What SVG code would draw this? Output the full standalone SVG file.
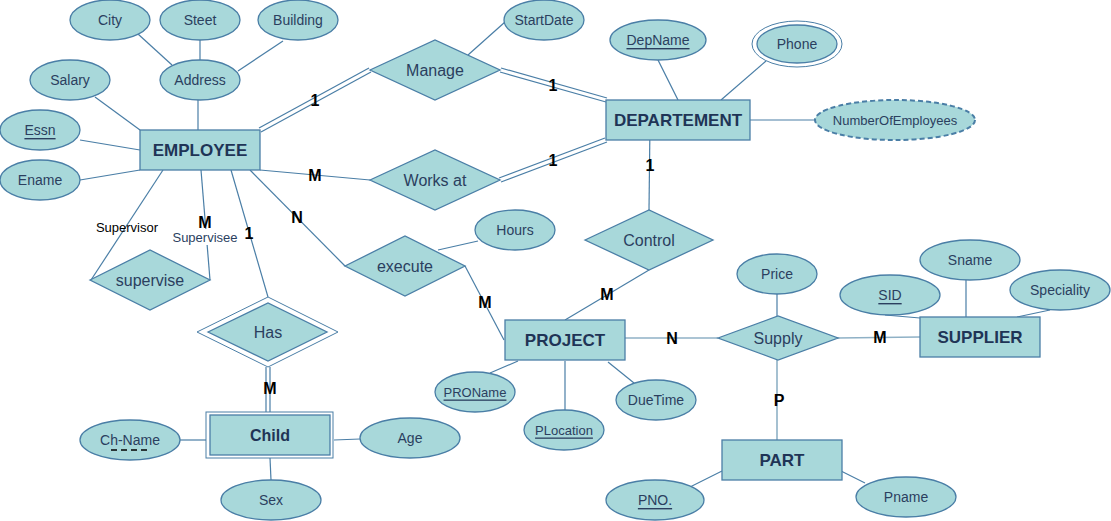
<svg xmlns="http://www.w3.org/2000/svg" width="1111" height="521" viewBox="0 0 1111 521">
<style>
.sh{fill:#a8d8da;stroke:#4a7ea6;stroke-width:1.3}
.dbl{fill:none;stroke:#4a7ea6;stroke-width:1}
.ln{stroke:#4a7ea6;stroke-width:1.2;fill:none}
.lt{stroke:#8fb1c6;stroke-width:1.6;fill:none}
.at{font-family:"Liberation Sans",Arial,sans-serif;font-size:14px;fill:#2b3f5f;text-anchor:middle;dominant-baseline:central}
.rl{font-family:"Liberation Sans",Arial,sans-serif;font-size:16px;fill:#2b3f5f;text-anchor:middle;dominant-baseline:central}
.en{font-family:"Liberation Sans",Arial,sans-serif;font-size:17px;font-weight:bold;fill:#1f3456;text-anchor:middle;dominant-baseline:central}
.cd{font-family:"Liberation Sans",Arial,sans-serif;font-size:16px;font-weight:bold;fill:#000;text-anchor:middle;dominant-baseline:central}
.rolel{font-family:"Liberation Sans",Arial,sans-serif;font-size:13px;fill:#000;text-anchor:middle;dominant-baseline:central}
.u{text-decoration:underline}
</style>
<rect width="1111" height="521" fill="#fff"/>
<g id="connectors">
<line class="ln" x1="138" y1="34" x2="172" y2="65"/>
<line class="ln" x1="200" y1="40" x2="200" y2="60"/>
<line class="ln" x1="283" y1="41" x2="238" y2="71"/>
<line class="ln" x1="198" y1="100" x2="198" y2="130"/>
<line class="ln" x1="95" y1="97" x2="140" y2="130"/>
<line class="ln" x1="80" y1="140" x2="140" y2="150"/>
<line class="ln" x1="80" y1="180" x2="140" y2="170"/>
<line class="ln" x1="259" y1="128" x2="369" y2="68"/>
<line class="ln" x1="261" y1="132" x2="371" y2="72"/>
<line class="ln" x1="501" y1="68" x2="607" y2="98"/>
<line class="ln" x1="500" y1="72" x2="606" y2="102"/>
<line class="ln" x1="260" y1="170" x2="370" y2="180"/>
<line class="ln" x1="499" y1="178" x2="605" y2="138"/>
<line class="ln" x1="501" y1="182" x2="607" y2="142"/>
<line class="ln" x1="468" y1="55" x2="505" y2="22"/>
<line class="ln" x1="658" y1="60" x2="678" y2="100"/>
<line class="ln" x1="766" y1="61" x2="721" y2="100"/>
<line class="ln" x1="750" y1="120" x2="815" y2="120"/>
<line class="ln" x1="650" y1="122" x2="649" y2="210"/>
<line class="ln" x1="649" y1="270" x2="565" y2="320"/>
<line class="ln" x1="250" y1="170" x2="345" y2="266"/>
<line class="ln" x1="438" y1="250" x2="478" y2="241"/>
<line class="ln" x1="465" y1="266" x2="504" y2="340"/>
<line class="ln" x1="163" y1="170" x2="91" y2="280"/>
<line class="ln" x1="201" y1="170" x2="210" y2="280"/>
<line class="ln" x1="231" y1="170" x2="268" y2="297"/>
<line class="ln" x1="266" y1="367" x2="266" y2="412"/>
<line class="ln" x1="270" y1="367" x2="270" y2="412"/>
<line class="ln" x1="180" y1="440" x2="206" y2="440"/>
<line class="ln" x1="270" y1="458" x2="271" y2="480"/>
<line class="ln" x1="334" y1="440" x2="360" y2="439"/>
<line class="ln" x1="518" y1="361" x2="490" y2="373"/>
<line class="ln" x1="565" y1="361" x2="565" y2="410"/>
<line class="ln" x1="608" y1="362" x2="634" y2="383"/>
<line class="lt" x1="625" y1="338" x2="718" y2="338"/>
<line class="ln" x1="777" y1="294" x2="777" y2="316"/>
<line class="lt" x1="837" y1="338" x2="920" y2="337"/>
<line class="lt" x1="777" y1="360" x2="777" y2="440"/>
<line class="ln" x1="885" y1="315" x2="920" y2="318"/>
<line class="ln" x1="966" y1="280" x2="966" y2="318"/>
<line class="ln" x1="1050" y1="310" x2="1017" y2="317"/>
<line class="ln" x1="722" y1="471" x2="690" y2="487"/>
<line class="ln" x1="841" y1="471" x2="865" y2="483"/>
<text class="cd" x="315" y="100">1</text>
<text class="cd" x="553" y="85">1</text>
<text class="cd" x="315" y="175">M</text>
<text class="cd" x="553" y="160">1</text>
<text class="cd" x="650" y="165">1</text>
<text class="cd" x="607" y="294">M</text>
<text class="cd" x="297" y="217">N</text>
<text class="cd" x="485" y="302">M</text>
<text class="cd" x="249" y="233">1</text>
<text class="cd" x="270" y="388">M</text>
<text class="cd" x="672" y="338">N</text>
<text class="cd" x="880" y="337">M</text>
<text class="cd" x="779" y="400">P</text>
<text class="rolel" x="127" y="227">Supervisor</text>
<rect x="170" y="229" width="70" height="16" fill="#fff"/>
<text class="cd" x="205" y="222">M</text>
<text class="at" x="205" y="237" style="font-size:13px">Supervisee</text>
</g>
<g id="City"><ellipse class="sh" cx="110" cy="20" rx="40" ry="20"/><text class="at" x="110" y="20">City</text></g>
<g id="Steet"><ellipse class="sh" cx="200" cy="20" rx="40" ry="20"/><text class="at" x="200" y="20">Steet</text></g>
<g id="Building"><ellipse class="sh" cx="298" cy="20" rx="40" ry="20"/><text class="at" x="298" y="20">Building</text></g>
<g id="Address"><ellipse class="sh" cx="200" cy="80" rx="40" ry="20"/><text class="at" x="200" y="80">Address</text></g>
<g id="Salary"><ellipse class="sh" cx="70" cy="80" rx="40" ry="20"/><text class="at" x="70" y="80">Salary</text></g>
<g id="Essn"><ellipse class="sh" cx="40" cy="130" rx="40" ry="20"/><text class="at u" x="40" y="130">Essn</text></g>
<g id="Ename"><ellipse class="sh" cx="40" cy="180" rx="40" ry="20"/><text class="at" x="40" y="180">Ename</text></g>
<g id="EMPLOYEE"><rect class="sh" x="140" y="130" width="120" height="40"/><text class="en" x="200" y="150">EMPLOYEE</text></g>
<g id="StartDate"><ellipse class="sh" cx="544" cy="20" rx="40" ry="20"/><text class="at" x="544" y="20">StartDate</text></g>
<g id="Manage"><polygon class="sh" points="370,70 435,40 500,70 435,100"/><text class="rl" x="435" y="70">Manage</text></g>
<g id="WorksAt"><polygon class="sh" points="370,180 435,150 500,180 435,210"/><text class="rl" x="435" y="180">Works at</text></g>
<g id="DepName"><ellipse class="sh" cx="658" cy="40" rx="48" ry="20"/><text class="at u" x="658" y="40">DepName</text></g>
<g id="Phone"><ellipse class="dbl" cx="797" cy="44" rx="45" ry="23"/><ellipse class="sh" cx="797" cy="44" rx="40" ry="19"/><text class="at" x="797" y="44">Phone</text></g>
<g id="DEPARTEMENT"><rect class="sh" x="606" y="100" width="144" height="40"/><text class="en" x="678" y="120">DEPARTEMENT</text></g>
<g id="NumberOfEmployees"><ellipse class="sh" cx="895" cy="120" rx="80" ry="20" stroke-dasharray="5,3" style="stroke-width:2"/><text class="at" x="895" y="120" style="font-size:13px">NumberOfEmployees</text></g>
<g id="Control"><polygon class="sh" points="585,240 649,210 713,240 649,270"/><text class="rl" x="649" y="240">Control</text></g>
<g id="Hours"><ellipse class="sh" cx="515" cy="230" rx="40" ry="20"/><text class="at" x="515" y="230">Hours</text></g>
<g id="execute"><polygon class="sh" points="345,266 405,236 465,266 405,296"/><text class="rl" x="405" y="266">execute</text></g>
<g id="supervise"><polygon class="sh" points="90,280 150,250 210,280 150,310"/><text class="rl" x="150" y="280">supervise</text></g>
<g id="Has"><polygon class="dbl" points="197,332 268,297 338,332 268,367"/><polygon class="sh" points="208,332 268,303 327,332 268,361"/><text class="rl" x="268" y="332">Has</text></g>
<g id="Child"><rect class="dbl" x="206" y="412" width="127" height="46"/><rect class="sh" x="210" y="415" width="120" height="40"/><text class="en" x="270" y="435" style="font-size:16px">Child</text></g>
<g id="ChName"><ellipse class="sh" cx="130" cy="440" rx="50" ry="20"/><text class="at" x="130" y="440">Ch-Name</text><line x1="111" y1="450" x2="151" y2="450" stroke="#000" stroke-width="1.5" stroke-dasharray="6,4"/></g>
<g id="Sex"><ellipse class="sh" cx="271" cy="500" rx="50" ry="20"/><text class="at" x="271" y="500">Sex</text></g>
<g id="Age"><ellipse class="sh" cx="410" cy="438" rx="50" ry="20"/><text class="at" x="410" y="438">Age</text></g>
<g id="PROJECT"><rect class="sh" x="505" y="320" width="120" height="40"/><text class="en" x="565" y="340">PROJECT</text></g>
<g id="PROName"><ellipse class="sh" cx="475" cy="392" rx="40" ry="20"/><text class="at u" x="475" y="392" style="font-size:13px">PROName</text></g>
<g id="PLocation"><ellipse class="sh" cx="564" cy="430" rx="40" ry="20"/><text class="at u" x="564" y="430" style="font-size:13px">PLocation</text></g>
<g id="DueTime"><ellipse class="sh" cx="656" cy="400" rx="40" ry="20"/><text class="at" x="656" y="400">DueTime</text></g>
<g id="Price"><ellipse class="sh" cx="777" cy="274" rx="40" ry="20"/><text class="at" x="777" y="274">Price</text></g>
<g id="Supply"><polygon class="sh" points="718,338 778,316 838,338 778,360"/><text class="rl" x="778" y="338">Supply</text></g>
<g id="SID"><ellipse class="sh" cx="890" cy="295" rx="50" ry="20"/><text class="at u" x="890" y="295">SID</text></g>
<g id="Sname"><ellipse class="sh" cx="970" cy="260" rx="50" ry="20"/><text class="at" x="970" y="260">Sname</text></g>
<g id="Speciality"><ellipse class="sh" cx="1060" cy="290" rx="50" ry="20"/><text class="at" x="1060" y="290">Speciality</text></g>
<g id="SUPPLIER"><rect class="sh" x="920" y="317" width="120" height="40"/><text class="en" x="980" y="337">SUPPLIER</text></g>
<g id="PART"><rect class="sh" x="722" y="440" width="120" height="40"/><text class="en" x="782" y="460">PART</text></g>
<g id="PNO"><ellipse class="sh" cx="655" cy="500" rx="49" ry="20"/><text class="at u" x="655" y="500">PNO.</text></g>
<g id="Pname"><ellipse class="sh" cx="906" cy="497" rx="50" ry="20"/><text class="at" x="906" y="497">Pname</text></g>
</svg>
